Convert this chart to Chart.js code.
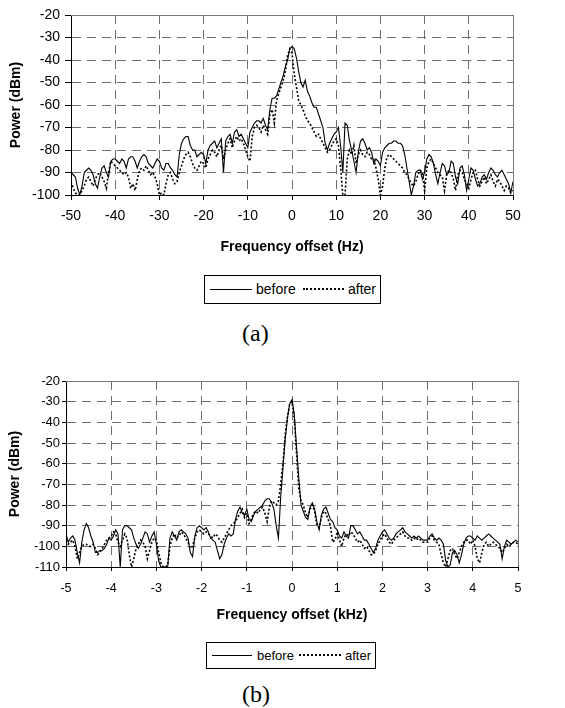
<!DOCTYPE html>
<html><head><meta charset="utf-8">
<script src="https://cdn.jsdelivr.net/npm/chart.js@4.4.1/dist/chart.umd.min.js"></script>
<style>
html,body{margin:0;padding:0;background:#fff;width:565px;height:708px;overflow:hidden;position:relative;font-family:"Liberation Sans",Arial,sans-serif;}
canvas{position:absolute;left:0;}
#ca{top:0;} #cb{top:366px;}
.legend{position:absolute;border:1px solid #000;box-sizing:border-box;background:#fff;}
.legend .ln{position:absolute;height:0;border-top:1px solid #000;}
.legend .dt{position:absolute;height:0;border-top:2px dotted #000;}
.legend .tx{position:absolute;color:#000;white-space:nowrap;line-height:1;}
.cap{position:absolute;font-family:"Liberation Serif","Times New Roman",serif;font-size:24px;line-height:1;color:#000;}
</style></head>
<body>
<canvas id="ca" width="565" height="262"></canvas>
<canvas id="cb" width="565" height="265"></canvas>
<div class="legend" style="left:204px;top:275px;width:177px;height:29px;">
 <div class="ln" style="left:5px;width:42px;top:13px"></div>
 <div class="tx" style="left:51px;top:6px;font-size:14px">before</div>
 <div class="dt" style="left:98px;width:41px;top:12px"></div>
 <div class="tx" style="left:143px;top:6px;font-size:14px">after</div>
</div>
<div class="cap" id="capa" style="left:242px;top:321px;">(a)</div>
<div class="legend" style="left:206px;top:642px;width:170px;height:27px;">
 <div class="ln" style="left:5px;width:40px;top:12px"></div>
 <div class="tx" style="left:50px;top:6px;font-size:13px">before</div>
 <div class="dt" style="left:92px;width:42px;top:11px"></div>
 <div class="tx" style="left:138px;top:6px;font-size:13px">after</div>
</div>
<div class="cap" id="capb" style="left:242px;top:682px;">(b)</div>
<script>
// ---------- data: chart (a), frequency offset in Hz (0.5 Hz grid) ----------
const freqA = Array.from({length: 201}, (_, i) => -50 + i * 0.5);
const beforeA = [
 -90,-91,-92,-97,-100,-96,-90,-89,-88,-89,
 -91,-95,-97,-92,-88,-87,-90,-92,-85,-84,
 -84,-85,-86,-84,-85,-88,-84,-83,-83,-85,
 -88,-85,-83,-82,-83,-86,-87,-88,-86,-84,
 -85,-88,-89,-86,-86,-88,-89,-91,-92,-82,
 -77,-75,-74,-74,-78,-80,-80,-83,-82,-81,
 -82,-86,-80,-78,-77,-76,-79,-77,-75,-90,
 -76,-74,-73,-77,-72,-71,-74,-73,-75,-77,
 -79,-72,-70,-68,-67,-67,-68,-66,-69,-71,
 -62,-57,-57,-56,-53,-50,-47,-43,-40,-35,
 -34,-35,-39,-45,-50,-52,-49,-54,-56,-59,
 -61,-61,-64,-67,-70,-77,-80,-77,-75,-73,
 -72,-70,-78,-90,-68,-69,-76,-80,-85,-90,
 -81,-76,-75,-77,-80,-79,-81,-86,-84,-85,
 -87,-81,-79,-78,-77,-77,-76,-76,-77,-77,
 -78,-82,-88,-94,-100,-96,-90,-89,-89,-93,
 -90,-84,-82,-83,-86,-91,-95,-90,-86,-87,
 -91,-90,-85,-86,-92,-95,-88,-87,-91,-98,
 -93,-88,-89,-93,-96,-95,-92,-91,-93,-90,
 -88,-89,-91,-92,-90,-89,-91,-93,-95,-99,
 -94];
const afterA = [
 -94,-97,-99,-100,-100,-98,-96,-93,-92,-94,
 -96,-93,-91,-90,-92,-94,-97,-90,-85,-86,
 -87,-88,-89,-90,-91,-90,-92,-97,-95,-98,
 -93,-89,-88,-89,-87,-89,-91,-90,-92,-95,
 -100,-99,-100,-95,-91,-90,-93,-95,-94,-90,
 -87,-84,-82,-81,-83,-86,-88,-89,-87,-85,
 -86,-88,-84,-82,-80,-81,-83,-80,-78,-84,
 -80,-77,-75,-79,-76,-74,-76,-75,-77,-80,
 -83,-85,-74,-70,-69,-70,-72,-69,-71,-73,
 -64,-62,-68,-58,-55,-52,-49,-45,-38,-35,
 -37,-46,-52,-58,-60,-62,-65,-67,-68,-70,
 -72,-74,-73,-75,-77,-79,-81,-80,-78,-76,
 -75,-78,-88,-100,-100,-84,-80,-82,-78,-86,
 -82,-80,-82,-83,-81,-82,-84,-84,-88,-93,
 -100,-96,-88,-83,-82,-83,-84,-85,-86,-87,
 -88,-90,-91,-93,-95,-96,-94,-91,-89,-90,
 -98,-88,-85,-84,-86,-88,-90,-91,-92,-98,
 -91,-89,-90,-93,-98,-91,-89,-90,-93,-95,
 -97,-93,-90,-89,-93,-96,-94,-92,-95,-93,
 -91,-94,-96,-93,-94,-96,-98,-96,-97,-99,
 -98];
const xTicksA = [-50,-40,-30,-20,-10,0,10,20,30,40,50];
const yTicksA = [-100,-90,-80,-70,-60,-50,-40,-30,-20];

// ---------- data: chart (b), frequency offset in kHz (0.05 kHz grid) ----------
const freqB = Array.from({length: 201}, (_, i) => Math.round((-5 + i * 0.05) * 100) / 100);
const beforeB = [
 -94,-98,-96,-95,-97,-103,-108,-98,-92,-89,
 -91,-95,-98,-103,-103,-102,-102,-101,-99,-96,
 -97,-95,-92,-94,-110,-92,-90,-90,-91,-92,
 -96,-99,-101,-99,-96,-93,-94,-98,-95,-93,
 -99,-107,-110,-110,-110,-110,-96,-93,-95,-97,
 -93,-92,-93,-94,-96,-103,-105,-95,-91,-90,
 -91,-92,-91,-93,-96,-97,-98,-102,-106,-104,
 -99,-96,-94,-95,-94,-87,-83,-81,-84,-85,
 -82,-87,-88,-85,-83,-82,-81,-80,-78,-77,
 -77,-79,-82,-90,-96,-76,-62,-48,-38,-31,
 -29,-36,-52,-67,-80,-83,-86,-87,-81,-79,
 -82,-88,-92,-85,-82,-81,-84,-87,-88,-91,
 -92,-95,-96,-93,-95,-96,-90,-90,-92,-94,
 -93,-95,-97,-97,-99,-101,-103,-101,-97,-95,
 -93,-92,-94,-96,-97,-96,-94,-93,-92,-91,
 -93,-94,-95,-96,-95,-96,-95,-96,-97,-97,
 -97,-95,-94,-96,-97,-96,-97,-99,-107,-110,
 -109,-103,-102,-104,-108,-104,-99,-96,-95,-95,
 -96,-97,-95,-96,-97,-96,-95,-94,-95,-96,
 -97,-98,-99,-106,-100,-97,-98,-99,-98,-97,
 -98];
const afterB = [
 -97,-99,-98,-97,-100,-106,-103,-100,-99,-99,
 -100,-100,-99,-101,-104,-103,-101,-99,-97,-96,
 -95,-93,-94,-98,-100,-97,-94,-96,-104,-110,
 -106,-101,-99,-97,-98,-100,-106,-102,-98,-96,
 -97,-103,-108,-110,-110,-109,-100,-96,-94,-96,
 -95,-93,-94,-96,-98,-101,-100,-96,-93,-92,
 -93,-94,-93,-94,-95,-96,-94,-95,-97,-98,
 -96,-94,-92,-90,-89,-88,-86,-84,-82,-86,
 -84,-89,-87,-84,-83,-84,-82,-81,-84,-88,
 -81,-78,-79,-80,-78,-70,-60,-46,-37,-31,
 -30,-38,-55,-72,-78,-80,-84,-86,-82,-80,
 -83,-90,-91,-86,-83,-84,-87,-90,-98,-97,
 -93,-97,-100,-96,-94,-95,-93,-94,-96,-98,
 -97,-99,-101,-100,-102,-104,-104,-102,-99,-97,
 -95,-94,-96,-98,-99,-97,-96,-95,-94,-93,
 -95,-96,-96,-97,-96,-97,-96,-97,-98,-98,
 -98,-96,-95,-97,-98,-99,-104,-108,-110,-106,
 -102,-101,-104,-106,-103,-100,-98,-97,-97,-99,
 -97,-100,-106,-108,-103,-99,-98,-100,-99,-98,
 -99,-100,-101,-103,-101,-99,-100,-99,-98,-98,
 -99];
const xTicksB = [-5,-4,-3,-2,-1,0,1,2,3,4,5];
const yTicksB = [-110,-100,-90,-80,-70,-60,-50,-40,-30,-20];

const seriesNames = ['before', 'after'];

// ---------- chart construction ----------
const frame = {
  id: 'frame',
  beforeDatasetsDraw(chart) {
    const {ctx, chartArea: {left, right, top, bottom}} = chart;
    const t = Math.round(top) + 0.5, r = Math.round(right) + 0.5;
    ctx.save();
    ctx.strokeStyle = '#7a7a7a';
    ctx.lineWidth = 1;
    ctx.setLineDash([]);
    ctx.beginPath();
    ctx.moveTo(Math.round(left), t);
    ctx.lineTo(r, t);
    ctx.lineTo(r, Math.round(bottom));
    ctx.stroke();
    ctx.restore();
  }
};

const FONT = '"Liberation Sans", Arial';

function makeChart(id, xs, before, after, xTicks, yTicks, cfg) {
  const pts = arr => xs.map((x, i) => ({x, y: arr[i]}));
  return new Chart(document.getElementById(id), {
    type: 'line',
    data: {
      datasets: [
        {label: seriesNames[0], data: pts(before), borderColor: '#000', borderWidth: 1.1,
         pointRadius: 0, tension: 0, fill: false},
        {label: seriesNames[1], data: pts(after), borderColor: '#000', borderWidth: 1.6,
         borderDash: [2, 2], pointRadius: 0, tension: 0, fill: false}
      ]
    },
    options: {
      responsive: false, animation: false, devicePixelRatio: 1,
      layout: {padding: {left: 0, right: cfg.padRight, top: cfg.padTop, bottom: 0}},
      plugins: {legend: {display: false}, tooltip: {enabled: false}},
      scales: {
        x: {
          type: 'linear', min: xTicks[0], max: xTicks[xTicks.length - 1],
          afterBuildTicks: s => { s.ticks = xTicks.map(v => ({value: v})); },
          afterFit: s => { s.height = cfg.xHeight; },
          ticks: {autoSkip: false, maxRotation: 0, color: '#000', padding: cfg.xTickPad,
                  font: {family: FONT, size: cfg.xTickSize},
                  callback: v => String(v)},
          grid: {color: '#6e6e6e', lineWidth: 1, tickLength: cfg.xTickLen, tickColor: '#000'},
          border: {display: true, color: '#000', width: 1, dash: [9, 6]},
          title: {display: true, text: cfg.xTitle, color: '#000',
                  font: {family: FONT, size: 14, weight: 'bold'},
                  padding: {top: 0, bottom: cfg.xTitlePad}}
        },
        y: {
          type: 'linear', min: yTicks[0], max: yTicks[yTicks.length - 1],
          afterBuildTicks: s => { s.ticks = yTicks.map(v => ({value: v})); },
          afterFit: s => { s.width = cfg.yWidth; },
          ticks: {autoSkip: false, color: '#000', padding: cfg.yTickPad,
                  font: {family: FONT, size: cfg.yTickSize},
                  callback: v => String(v)},
          grid: {color: '#6e6e6e', lineWidth: 1, tickLength: cfg.yTickLen, tickColor: '#000'},
          border: {display: true, color: '#000', width: 1, dash: [9, 6]},
          title: {display: true, text: 'Power (dBm)', color: '#000',
                  font: {family: FONT, size: 14, weight: 'bold'},
                  padding: {top: cfg.yTitlePad, bottom: 0}}
        }
      }
    },
    plugins: [frame]
  });
}

makeChart('ca', freqA, beforeA, afterA, xTicksA, yTicksA,
  {padRight: 52, padTop: 15, xHeight: 67, yWidth: 71,
   xTickSize: 14, yTickSize: 14, xTickLen: 5, yTickLen: 6, xTickPad: 8, yTickPad: 5,
   xTitle: 'Frequency offset (Hz)', xTitlePad: 6, yTitlePad: 8});
makeChart('cb', freqB, beforeB, afterB, xTicksB, yTicksB,
  {padRight: 47, padTop: 15, xHeight: 64, yWidth: 66,
   xTickSize: 12.5, yTickSize: 13, xTickLen: 4, yTickLen: 4, xTickPad: 10, yTickPad: 2,
   xTitle: 'Frequency offset (kHz)', xTitlePad: 7, yTitlePad: 7});
</script>
</body></html>
